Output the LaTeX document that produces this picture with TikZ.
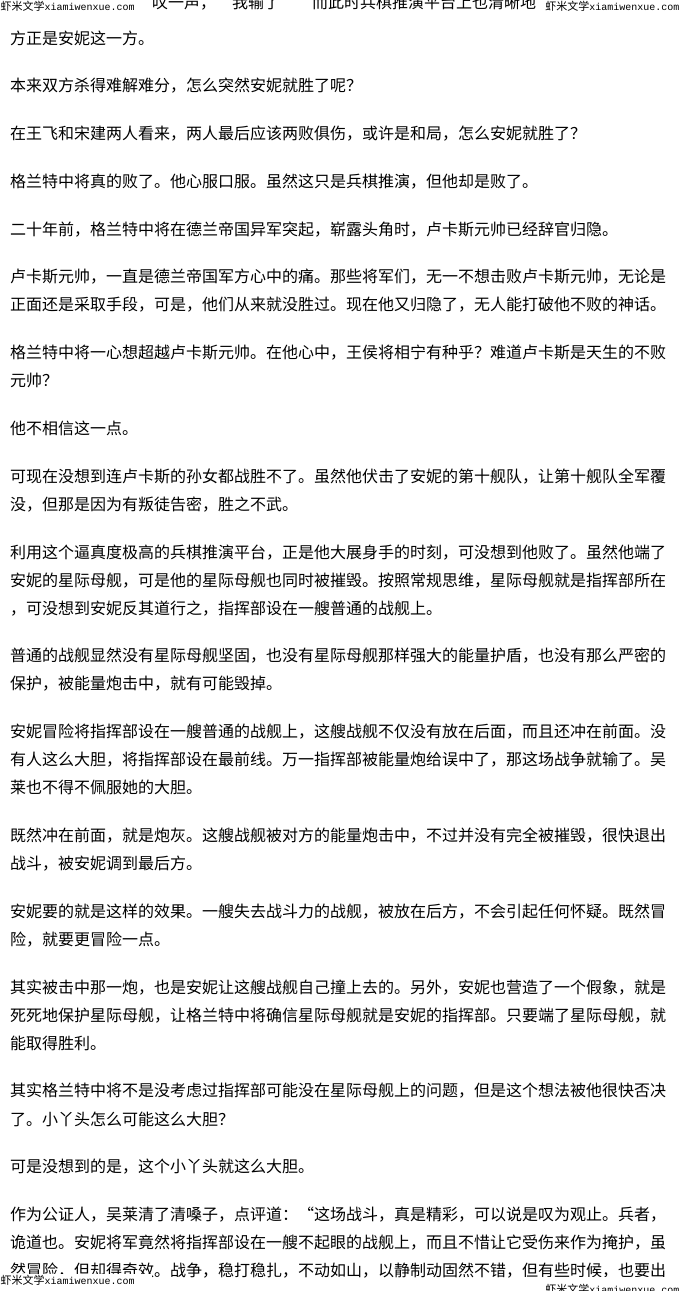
\documentclass[tikz,border=0pt]{standalone}
\usepackage{fontspec}
\newfontfamily\cjk{Noto Sans CJK SC}
\newfontfamily\wmmono{Liberation Mono}
\newcommand{\wmtext}{虾米文学{\wmmono\fontsize{10pt}{10pt}\selectfont xiamiwenxue.com}}
\begin{document}
\begin{tikzpicture}[x=1pt,y=-1pt,
  txt/.style={anchor=west,inner sep=0pt,font=\cjk\fontsize{16pt}{16pt}\selectfont},
  wm/.style={inner sep=0.5pt,fill=white,font=\cjk\fontsize{11pt}{11pt}\selectfont}]
\useasboundingbox[fill=white] (0,0) rectangle (680,1291);

\node[txt] (top) at (152,3) {叹一声，“我输了　”而此时兵棋推演平台上也清晰地};
\node[wm,anchor=west] (wmtl) at (0,6) {\wmtext};
\node[wm,anchor=east] (wmtr) at (680,6) {\wmtext};

\node[txt] (p1) at (10,38) {方正是安妮这一方。};
\node[txt] (p2) at (10,85.8) {本来双方杀得难解难分，怎么突然安妮就胜了呢？};
\node[txt] (p3) at (10,133.6) {在王飞和宋建两人看来，两人最后应该两败俱伤，或许是和局，怎么安妮就胜了？};
\node[txt] (p4) at (10,181.4) {格兰特中将真的败了。他心服口服。虽然这只是兵棋推演，但他却是败了。};
\node[txt] (p5) at (10,229.2) {二十年前，格兰特中将在德兰帝国异军突起，崭露头角时，卢卡斯元帅已经辞官归隐。};
\node[txt] (p6a) at (10,277) {卢卡斯元帅，一直是德兰帝国军方心中的痛。那些将军们，无一不想击败卢卡斯元帅，无论是};
\node[txt] (p6b) at (10,305) {正面还是采取手段，可是，他们从来就没胜过。现在他又归隐了，无人能打破他不败的神话。};
\node[txt] (p7a) at (10,352.8) {格兰特中将一心想超越卢卡斯元帅。在他心中，王侯将相宁有种乎？难道卢卡斯是天生的不败};
\node[txt] (p7b) at (10,380.8) {元帅？};
\node[txt] (p8) at (10,428.6) {他不相信这一点。};
\node[txt] (p9a) at (10,476.4) {可现在没想到连卢卡斯的孙女都战胜不了。虽然他伏击了安妮的第十舰队，让第十舰队全军覆};
\node[txt] (p9b) at (10,504.4) {没，但那是因为有叛徒告密，胜之不武。};
\node[txt] (p10a) at (10,552.2) {利用这个逼真度极高的兵棋推演平台，正是他大展身手的时刻，可没想到他败了。虽然他端了};
\node[txt] (p10b) at (10,580.2) {安妮的星际母舰，可是他的星际母舰也同时被摧毁。按照常规思维，星际母舰就是指挥部所在};
\node[txt] (p10c) at (10,608.2) {，可没想到安妮反其道行之，指挥部设在一艘普通的战舰上。};
\node[txt] (p11a) at (10,656) {普通的战舰显然没有星际母舰坚固，也没有星际母舰那样强大的能量护盾，也没有那么严密的};
\node[txt] (p11b) at (10,684) {保护，被能量炮击中，就有可能毁掉。};
\node[txt] (p12a) at (10,731.8) {安妮冒险将指挥部设在一艘普通的战舰上，这艘战舰不仅没有放在后面，而且还冲在前面。没};
\node[txt] (p12b) at (10,759.8) {有人这么大胆，将指挥部设在最前线。万一指挥部被能量炮给误中了，那这场战争就输了。吴};
\node[txt] (p12c) at (10,787.8) {莱也不得不佩服她的大胆。};
\node[txt] (p13a) at (10,835.6) {既然冲在前面，就是炮灰。这艘战舰被对方的能量炮击中，不过并没有完全被摧毁，很快退出};
\node[txt] (p13b) at (10,863.6) {战斗，被安妮调到最后方。};
\node[txt] (p14a) at (10,911.4) {安妮要的就是这样的效果。一艘失去战斗力的战舰，被放在后方，不会引起任何怀疑。既然冒};
\node[txt] (p14b) at (10,939.4) {险，就要更冒险一点。};
\node[txt] (p15a) at (10,987.2) {其实被击中那一炮，也是安妮让这艘战舰自己撞上去的。另外，安妮也营造了一个假象，就是};
\node[txt] (p15b) at (10,1015.2) {死死地保护星际母舰，让格兰特中将确信星际母舰就是安妮的指挥部。只要端了星际母舰，就};
\node[txt] (p15c) at (10,1043.2) {能取得胜利。};
\node[txt] (p16a) at (10,1091) {其实格兰特中将不是没考虑过指挥部可能没在星际母舰上的问题，但是这个想法被他很快否决};
\node[txt] (p16b) at (10,1119) {了。小丫头怎么可能这么大胆？};
\node[txt] (p17) at (10,1166.8) {可是没想到的是，这个小丫头就这么大胆。};
\node[txt] (p18a) at (10,1214.6) {作为公证人，吴莱清了清嗓子，点评道：“这场战斗，真是精彩，可以说是叹为观止。兵者，};
\node[txt] (p18b) at (10,1242.6) {诡道也。安妮将军竟然将指挥部设在一艘不起眼的战舰上，而且不惜让它受伤来作为掩护，虽};
\node[txt] (p18c) at (10,1270.6) {然冒险，但却得奇效。战争，稳打稳扎，不动如山，以静制动固然不错，但有些时候，也要出};

\fill[white] (0,1274) rectangle (152,1291);
\node[wm,anchor=west] (wmbl) at (0,1280) {\wmtext};
\fill[white] (520,1277) rectangle (680,1291);
\node[wm,anchor=east] (wmbr) at (680,1289) {\wmtext};
\end{tikzpicture}
\end{document}
